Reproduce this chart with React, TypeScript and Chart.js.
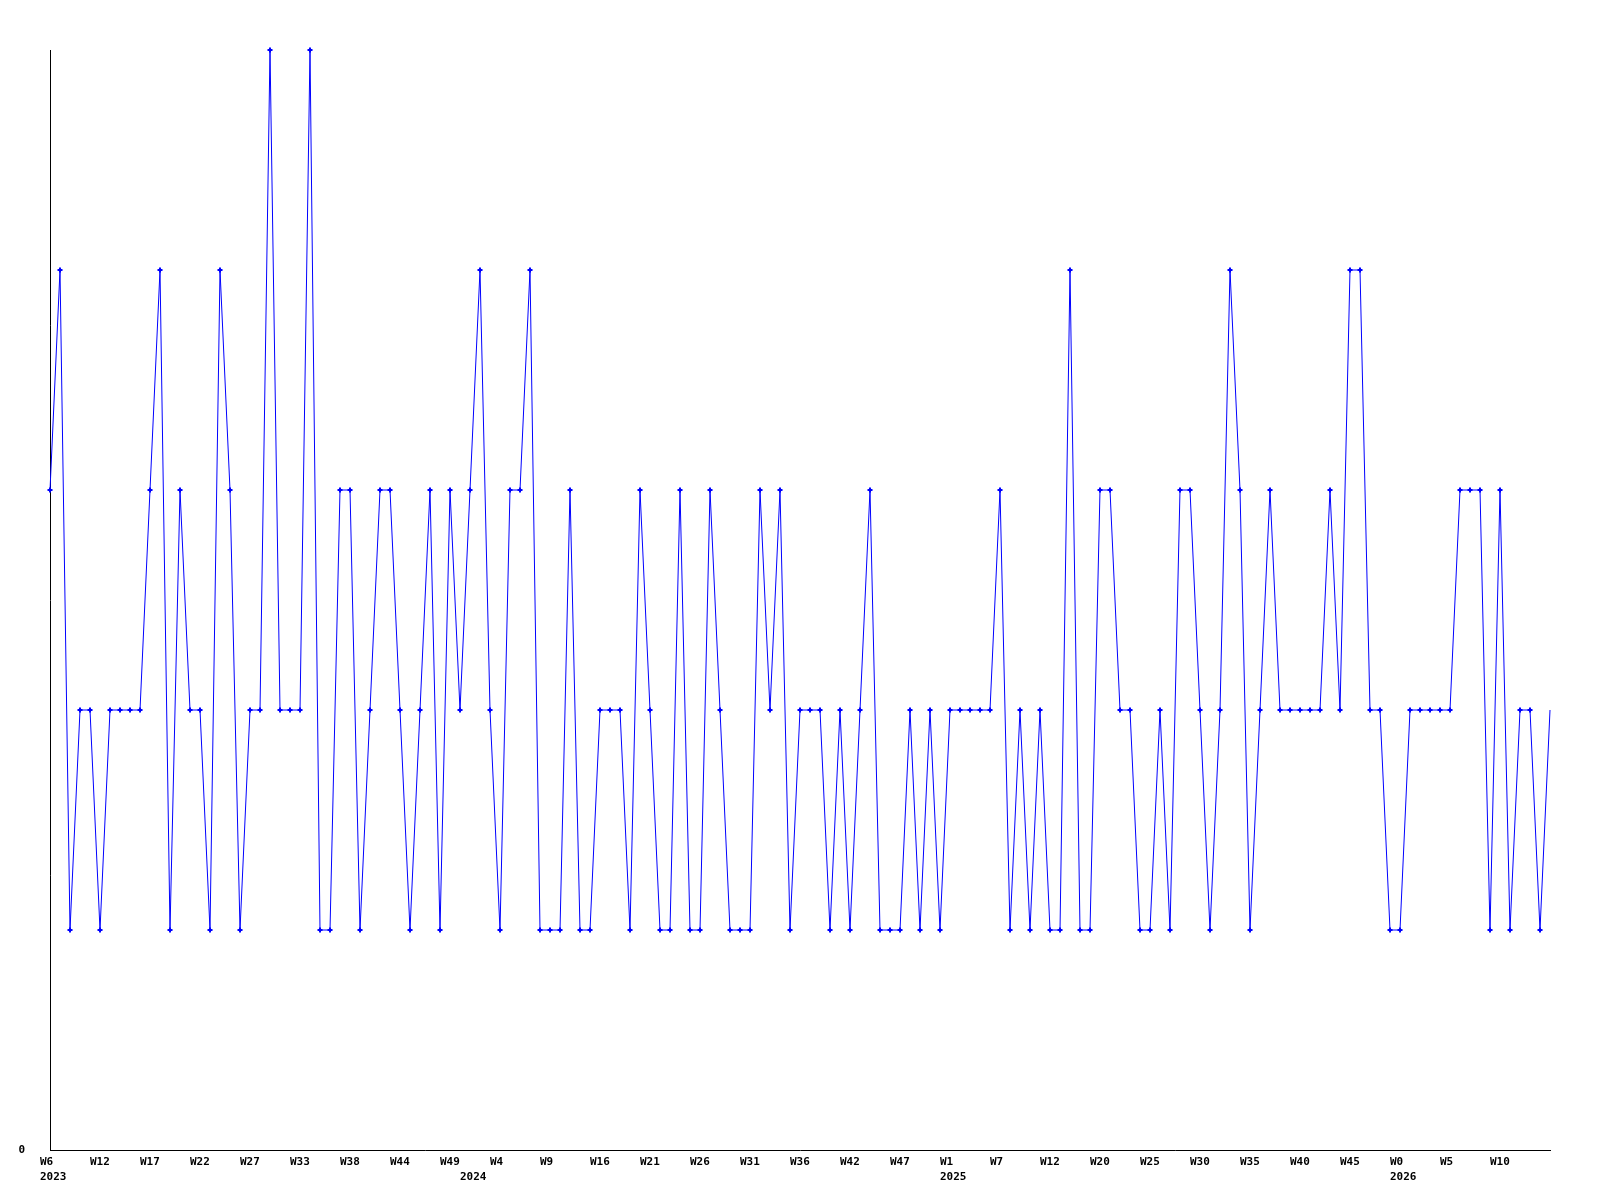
import React, { useEffect, useRef } from "react";
import { Chart, registerables } from "chart.js";

Chart.register(...registerables);

// Series values (one per week)
const values: number[] = [
  3, 4, 1, 2, 2, 1, 2, 2, 2, 2, 3, 4, 1, 3, 2, 2, 1, 4, 3, 1, 2, 2, 5, 2, 2, 2,
  5, 1, 1, 3, 3, 1, 2, 3, 3, 2, 1, 2, 3, 1, 3, 2, 3, 4, 2, 1, 3, 3, 4, 1, 1,
  1, 3, 1, 1, 2, 2, 2, 1, 3, 2, 1, 1, 3, 1, 1, 3, 2, 1, 1, 1, 3, 2, 3, 1, 2,
  2, 2, 1, 2, 1, 2, 3, 1, 1, 1, 2, 1, 2, 1, 2, 2, 2, 2, 2, 3, 1, 2, 1, 2, 1,
  1, 4, 1, 1, 3, 3, 2, 2, 1, 1, 2, 1, 3, 3, 2, 1, 2, 4, 3, 1, 2, 3, 2, 2, 2,
  2, 2, 3, 2, 4, 4, 2, 2, 1, 1, 2, 2, 2, 2, 2, 3, 3, 3, 1, 3, 1, 2, 2, 1, 2,
];

// Week tick labels, shown on every 5th category
const weekTickLabels: string[] = [
  "W6", "W12", "W17", "W22", "W27", "W33", "W38", "W44", "W49", "W4",
  "W9", "W16", "W21", "W26", "W31", "W36", "W42", "W47", "W1", "W7",
  "W12", "W20", "W25", "W30", "W35", "W40", "W45", "W0", "W5", "W10",
];
const weekTickEvery = 5;

// Year labels and the category index where each year starts
const yearNames: string[] = ["2023", "2024", "2025", "2026"];
const yearStartIndex: number[] = [0, 42, 90, 135];

const categories: (string | string[])[] = values.map((_, i) => {
  const week = i % weekTickEvery === 0 ? weekTickLabels[i / weekTickEvery] ?? "" : "";
  const y = yearStartIndex.indexOf(i);
  if (y >= 0) return [week, yearNames[y]];
  return week;
});

const FONT = {
  family: "'DejaVu Sans Mono', monospace",
  size: 11,
  weight: "bold" as const,
  lineHeight: "15px",
};

export default function App() {
  const ref = useRef<HTMLCanvasElement | null>(null);

  useEffect(() => {
    if (!ref.current) return;
    const last = values.length - 1;
    const chart = new Chart(ref.current, {
      type: "line",
      data: {
        labels: categories,
        datasets: [
          {
            data: values,
            borderColor: "#0000ff",
            backgroundColor: "#0000ff",
            borderWidth: 1,
            pointStyle: "cross",
            pointRadius: (ctx: any) => (ctx.dataIndex === last ? 0 : 2.5),
            pointBorderWidth: 2,
            pointBorderColor: "#0000ff",
            tension: 0,
            fill: false,
            clip: false as any,
          },
        ],
      },
      options: {
        responsive: false,
        animation: false,
        devicePixelRatio: 1,
        layout: { padding: { top: 50, right: 50, left: 0, bottom: 0 } },
        plugins: {
          legend: { display: false },
          tooltip: { enabled: false },
          title: { display: false },
        },
        scales: {
          x: {
            type: "category",
            offset: false,
            grid: { display: false, drawTicks: false },
            border: { display: true, color: "#000000", width: 1 },
            ticks: {
              autoSkip: false,
              maxRotation: 0,
              minRotation: 0,
              align: "start",
              labelOffset: -10,
              padding: 5,
              color: "#000000",
              font: FONT,
            },
            afterFit: (scale: any) => {
              scale.height = 50;
            },
          },
          y: {
            min: 0,
            max: 5,
            grid: { display: false, drawTicks: false },
            border: { display: true, color: "#000000", width: 1 },
            ticks: {
              stepSize: 1,
              padding: 25,
              color: "#000000",
              font: FONT,
              callback: (v: any) => (Number(v) === 0 ? "0" : ""),
            },
            afterFit: (scale: any) => {
              scale.width = 50;
            },
          },
        },
      },
    });
    return () => chart.destroy();
  }, []);

  return (
    <div style={{ position: "absolute", left: 0, top: 0, width: 1600, height: 1200, background: "#ffffff" }}>
      <canvas ref={ref} width={1600} height={1200} style={{ width: 1600, height: 1200, display: "block" }} />
    </div>
  );
}
